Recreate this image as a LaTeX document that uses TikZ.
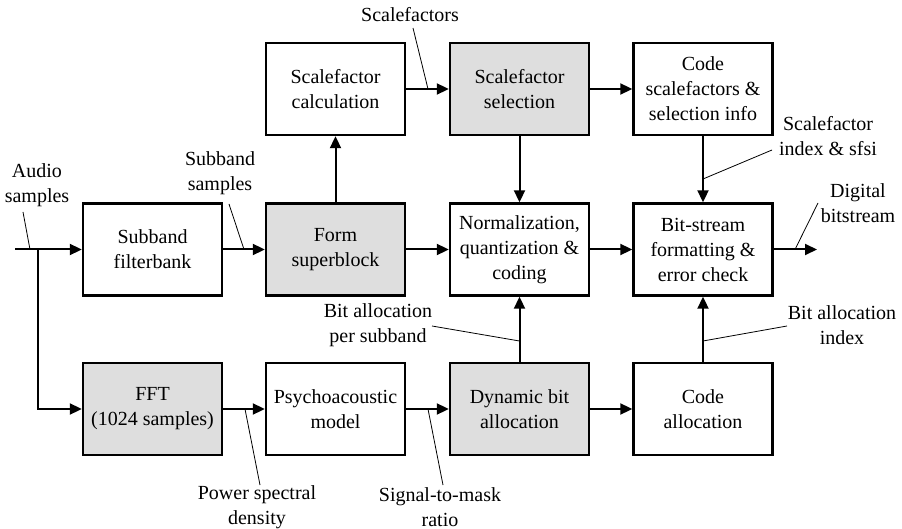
\documentclass[tikz,border=0pt]{standalone}
\usepackage{fontspec}
\setmainfont{Liberation Serif}
\usetikzlibrary{arrows.meta}
\begin{document}
\begin{tikzpicture}[x=1pt,y=-1pt,
  font=\fontsize{20}{25}\selectfont,
  blk/.style={draw,line width=2.4pt,minimum width=139pt,minimum height=92pt,align=center,inner sep=2pt},
  shaded/.style={blk,fill=black!13},
  arr/.style={line width=2pt,-{Triangle[length=12pt,width=11pt]}},
  link/.style={line width=2pt},
  leader/.style={line width=0.8pt},
  lbl/.style={align=center,inner sep=0pt}]
\path[use as bounding box] (0,0) rectangle (902,529);

% processing blocks
\node[blk]    (sfc)  at (335.5,89)  {Scalefactor\\calculation};
\node[shaded] (sfs)  at (519.5,89)  {Scalefactor\\selection};
\node[blk]    (csf)  at (703,89)    {Code\\scalefactors \&\\selection info};
\node[blk]    (sub)  at (152.5,249.5) {Subband\\filterbank};
\node[shaded] (form) at (335.5,249.5) {Form\\superblock};
\node[blk]    (norm) at (519.5,249.5) {Normalization,\\quantization \&\\coding};
\node[blk]    (bs)   at (703,249.5) {Bit-stream\\formatting \&\\error check};
\node[shaded] (fft)  at (152.5,409) {FFT\\(1024 samples)};
\node[blk]    (psy)  at (335.5,409) {Psychoacoustic\\model};
\node[shaded] (dba)  at (519.5,409) {Dynamic bit\\allocation};
\node[blk]    (ca)   at (703,409)   {Code\\allocation};

% free ends of the signal path
\coordinate (in)  at (15,249.5);
\coordinate (br)  at (38,249.5);
\coordinate (out) at (817,249.5);

% signal flow
\draw[link] (in) -- (br);
\draw[arr] (br) -- (sub);
\draw[arr] (br) |- (fft);
\draw[arr] (sub) -- (form);
\draw[arr] (form) -- (norm);
\draw[arr] (norm) -- (bs);
\draw[arr] (bs) -- (out);
\draw[arr] (form) -- (sfc);
\draw[arr] (sfc) -- (sfs);
\draw[arr] (sfs) -- (csf);
\draw[arr] (sfs) -- (norm);
\draw[arr] (csf) -- (bs);
\draw[arr] (fft) -- (psy);
\draw[arr] (psy) -- (dba);
\draw[arr] (dba) -- (ca);
\draw[arr] (dba) -- (norm);
\draw[arr] (ca) -- (bs);

% signal labels
\node[lbl] (laudio) at (37,185)  {Audio\\samples};
\node[lbl] (lsub)   at (220,173) {Subband\\samples};
\node[lbl] (lsf)    at (410,15)  {Scalefactors};
\node[lbl] (lsfi)   at (828,136) {Scalefactor\\index \& sfsi};
\node[lbl] (ldig)   at (858,203) {Digital\\bitstream};
\node[lbl] (lbai)   at (842,325) {Bit allocation\\index};
\node[lbl] (lbps)   at (378,325) {Bit allocation\\per subband};
\node[lbl] (lpsd)   at (257,507) {Power spectral\\density};
\node[lbl] (lsmr)   at (440,507) {Signal-to-mask\\ratio};

% leader lines from labels to the signals they name
\coordinate (a1) at (23,212);   \coordinate (a2) at (30,249.5);
\coordinate (b1) at (229,204);  \coordinate (b2) at (244,249.5);
\coordinate (c1) at (413,28);   \coordinate (c2) at (428,89);
\coordinate (d1) at (772,150);  \coordinate (d2) at (703,179);
\coordinate (e1) at (818,203);  \coordinate (e2) at (795,249.5);
\coordinate (f1) at (787,326);  \coordinate (f2) at (703,341);
\coordinate (g1) at (432,326);  \coordinate (g2) at (519.5,341);
\coordinate (h1) at (260,485);  \coordinate (h2) at (245,409);
\coordinate (i1) at (443,485);  \coordinate (i2) at (428,409);
\draw[leader] (a1) -- (a2);
\draw[leader] (b1) -- (b2);
\draw[leader] (c1) -- (c2);
\draw[leader] (d1) -- (d2);
\draw[leader] (e1) -- (e2);
\draw[leader] (f1) -- (f2);
\draw[leader] (g1) -- (g2);
\draw[leader] (h1) -- (h2);
\draw[leader] (i1) -- (i2);
\end{tikzpicture}
\end{document}
